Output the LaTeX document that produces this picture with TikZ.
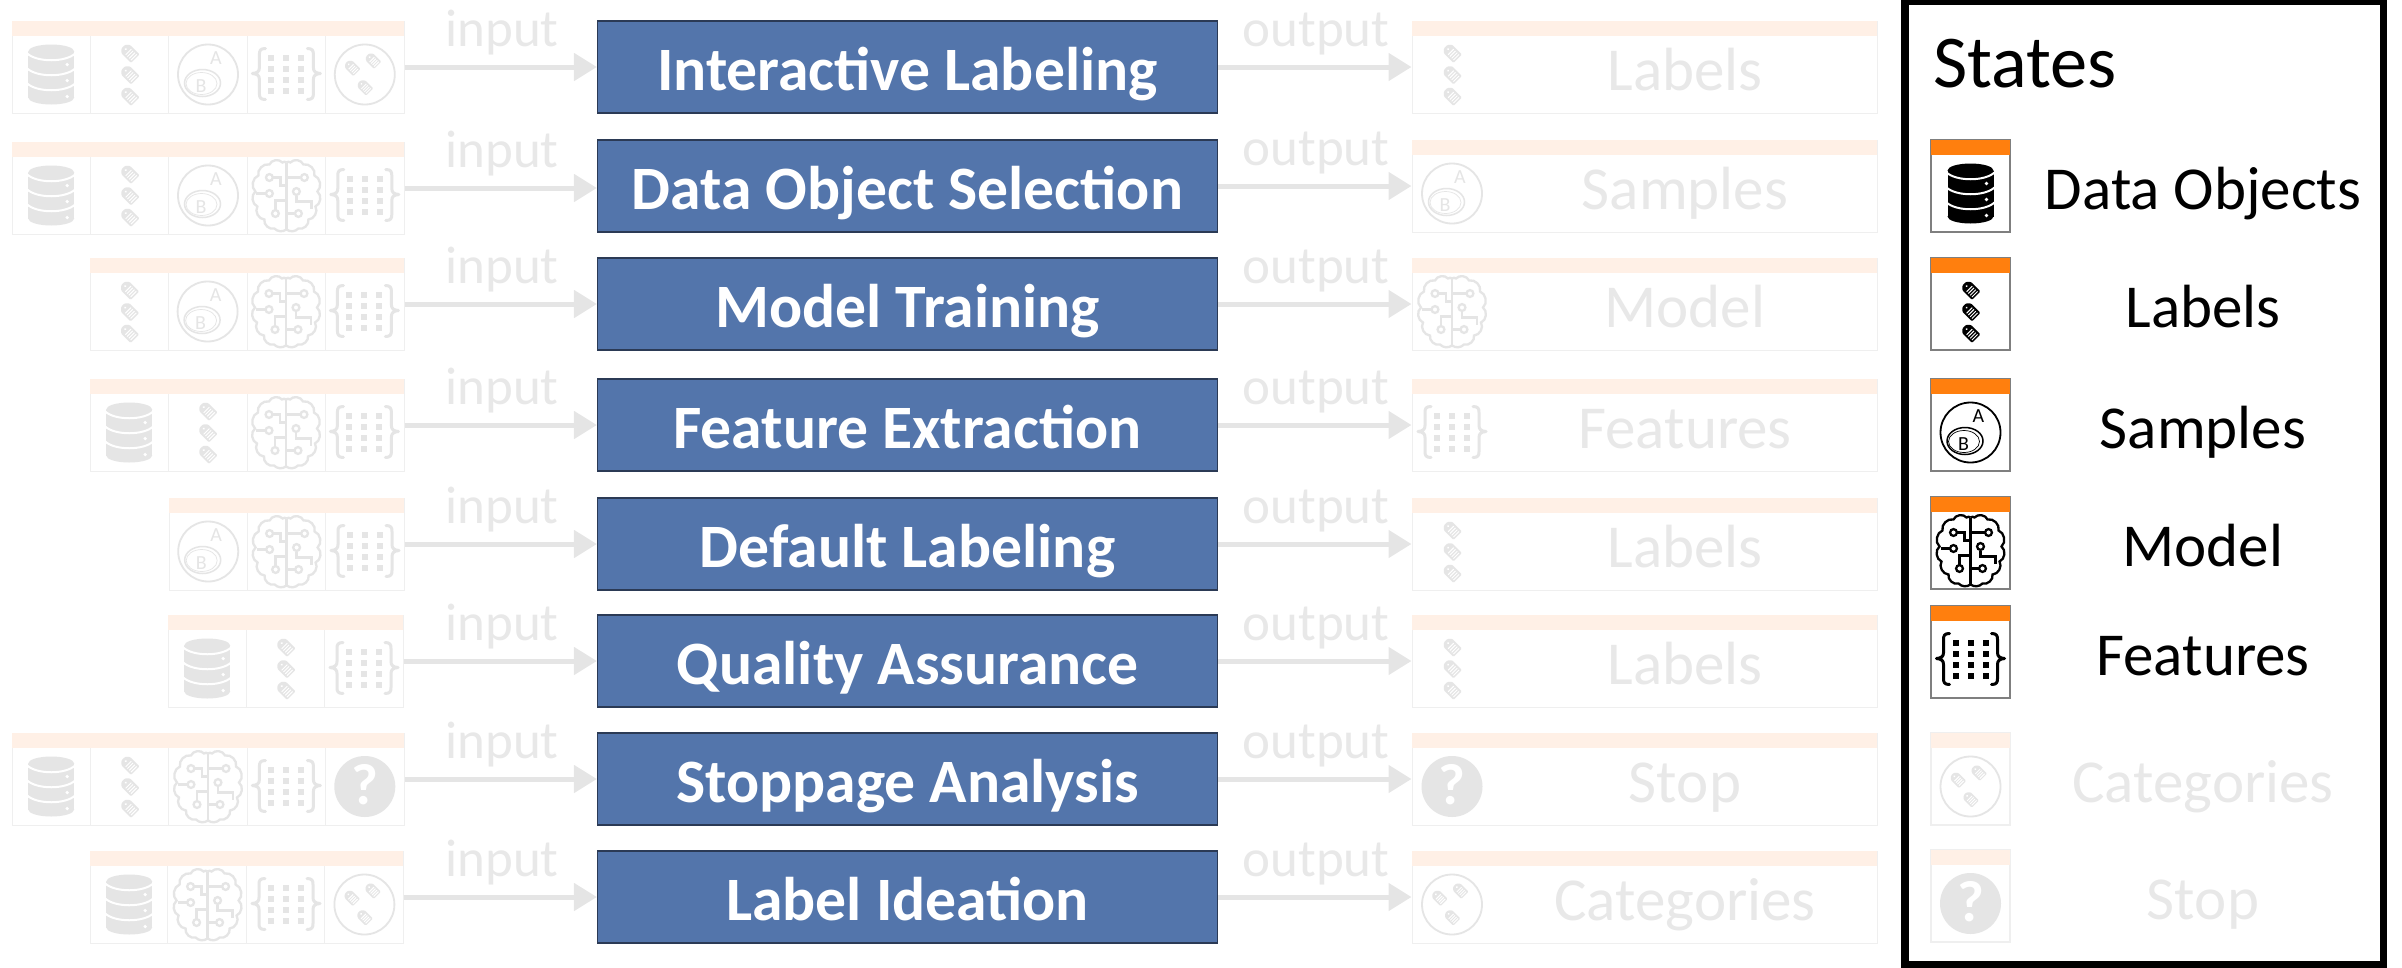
\documentclass[tikz,border=0pt]{standalone}
\usepackage{fontspec}
\setmainfont{Carlito}
\usetikzlibrary{arrows.meta}

\definecolor{taskblue}{HTML}{5375AB}
\definecolor{taskline}{HTML}{2B3A55}
\definecolor{stripon}{HTML}{FF7F0E}
\definecolor{stripoff}{HTML}{FFF0E6}
\definecolor{inkoff}{HTML}{E5E5E5}
\definecolor{textoff}{HTML}{E8E8E8}
\definecolor{celloff}{HTML}{EFEFEF}
\definecolor{cellon}{HTML}{7F7F7F}

\tikzset{
  task/.style={draw=taskline,line width=1.2pt,fill=taskblue,text=white,inner sep=0pt,
    font=\bfseries\fontsize{61.7}{62}\selectfont,minimum width=620pt,minimum height=92pt,
    text height=50pt,text depth=4pt},
  cellbox/.style={draw=celloff,line width=1pt,fill=white,minimum height=92pt,inner sep=0pt},
  flow/.style={draw=inkoff,line width=5pt,-{Triangle[length=23pt,width=27pt]}},
  flowtext/.style={text=textoff,anchor=base,inner sep=0pt,font=\fontsize{53}{53}\selectfont},
  statetext/.style={anchor=base,inner sep=0pt,font=\fontsize{61}{61}\selectfont},
  legbox/.style={draw=cellon,line width=1.3pt,fill=white,minimum width=79pt,minimum height=92pt,inner sep=0pt},
}

\newcommand{\onetag}[2]{
  \begin{scope}[shift={(#1,#2)},rotate=-45]
    \fill[rounded corners=1pt] (-9,-2.5) -- (-5.5,-6) -- (8,-6) -- (8,6) -- (-5.5,6) -- (-9,2.5) -- cycle;
    \fill[white] (-5.5,0) circle [radius=1.2];
    \foreach \u in {-1.5,1,3.5,6}
      \draw[white,line width=1pt] (\u,-4) -- (\u,4);
  \end{scope}
}
\newcommand{\icondb}{
  \fill (-23,-23) rectangle (23,23);
  \fill (0,-23) ellipse [x radius=23,y radius=7];
  \fill (0,23) ellipse [x radius=23,y radius=7];
  \foreach \ypos in {-23,-8,7}
    \draw[white,line width=2pt] (-24,\ypos+2) .. controls (-14,\ypos+11) and (14,\ypos+11) .. (24,\ypos+2);
  \foreach \ypos in {-10,6,22}
    \fill[white] (16,\ypos) circle [radius=1.8];
}
\newcommand{\icontags}{
  \onetag{0}{-21.5}
  \onetag{0}{0}
  \onetag{0}{21.5}
}
\newcommand{\iconsamples}{
  \draw[line width=1.8pt] (0,0) circle [radius=30];
  \draw[line width=1.5pt] (-5.5,8.5) ellipse [x radius=18,y radius=13.5];
  \draw[line width=.7pt] (-6.5,9) ellipse [x radius=15.5,y radius=11];
  \node[inner sep=0pt,font=\fontsize{20}{20}\selectfont] (smpa) at (8,-16) {A};
  \node[inner sep=0pt,font=\fontsize{20}{20}\selectfont] (smpb) at (-7,12) {B};
}
\newcommand{\halfbrain}{
  \draw[line width=2.3pt] (0,-33) to[bend right=40] (-4,-33) to[bend right=60] (-17,-31) to[bend right=60] (-28,-20)
    to[bend right=60] (-31,-4) to[bend right=60] (-29,11) to[bend right=60] (-22,24)
    to[bend right=60] (-12,33) to[bend right=40] (0,34);
}
\newcommand{\iconbrain}{
  \halfbrain
  \begin{scope}[xscale=-1]
    \halfbrain
  \end{scope}
  \draw[line width=2.3pt] (0,-33) -- (0,34);
  \draw[line width=2.3pt] (-14,-18) -- (-6,-18) -- (-6,-10) -- (0,-10);
  \draw[line width=2.3pt] (-30,-2) -- (-20,-2);
  \draw[line width=2.3pt] (-11,15) -- (-11,5) -- (0,5);
  \draw[line width=2.3pt] (0,-18) -- (14,-18);
  \draw[line width=2.3pt] (10,0) -- (10,6) -- (25,6) -- (25,13);
  \draw[line width=2.3pt] (0,18) -- (8,18);
  \foreach \cx/\cy in {-17/-18,-17/-2,-11/18,18/-18,10/-4,12/18}
    \draw[line width=2.3pt] (\cx,\cy) circle [radius=3.4];
}
\newcommand{\leftbrace}{
  \draw[line width=3pt,line join=round,line cap=round] (-21,-26) .. controls (-26,-26) and (-27,-24) .. (-27,-20) -- (-27,-7)
    .. controls (-27,-3) and (-29,-1.5) .. (-34,-1) .. controls (-29,-.5) and (-27,1) .. (-27,5) -- (-27,19)
    .. controls (-27,23) and (-26,25) .. (-21,25);
}
\newcommand{\iconfeats}{
  \leftbrace
  \begin{scope}[xscale=-1]
    \leftbrace
  \end{scope}
  \foreach \cx in {-15,0,15}
    \foreach \cy in {-17,-6,5,16}
      \fill (\cx-3,\cy-3) rectangle (\cx+3,\cy+3);
}
\newcommand{\iconcats}{
  \draw[line width=1.8pt] (0,0) circle [radius=30];
  \begin{scope}[scale=.85]
    \onetag{-15}{-8}
    \onetag{9.5}{-16.5}
    \onetag{0}{15}
  \end{scope}
}
\newcommand{\iconstop}{
  \fill (0,0) circle [radius=30.5];
  \node[text=white,anchor=base,inner sep=0pt,font=\bfseries\fontsize{58}{58}\selectfont] (qmark) at (0,18) {?};
}

% name, left, right, top, icons
\newcommand{\staterow}[5]{
  \node[cellbox,minimum width=#3pt-#2pt] (#1) at ({(#2+#3)/2},#4+46) {};
  \fill[stripoff] (#2,#4) rectangle (#3,#4+15);
  \foreach \ico [count=\c from 0] in {#5} {
    \draw[celloff,line width=1pt] ({#3-\c*78.4},#4+15) -- ({#3-\c*78.4},#4+92);
  }
  \foreach \ico [count=\c from 0] in {#5} {
    \begin{scope}[shift={({#2+\c*78.4+39.2},#4+53.5)},color=inkoff]
      \csname icon\ico\endcsname
    \end{scope}
  }
  \node[flowtext] (lab#1) at (502,#4+25) {input};
}

\begin{document}
\begin{tikzpicture}[x=1pt,y=-1pt]
  \useasboundingbox (0,0) rectangle (2402,967);

  \node[task] (t1) at (907.5,67)  {Interactive Labeling};
  \node[task] (t2) at (907.5,186) {Data Object Selection};
  \node[task] (t3) at (907.5,304) {Model Training};
  \node[task] (t4) at (907.5,425) {Feature Extraction};
  \node[task] (t5) at (907.5,544) {Default Labeling};
  \node[task] (t6) at (907.5,661) {Quality Assurance};
  \node[task] (t7) at (907.5,779) {Stoppage Analysis};
  \node[task] (t8) at (907.5,897) {Label Ideation};

  \staterow{i1}{12}{404}{21}{db,tags,samples,feats,cats}
  \staterow{i2}{12}{404}{142}{db,tags,samples,brain,feats}
  \staterow{i3}{90}{404}{258}{tags,samples,brain,feats}
  \staterow{i4}{90}{404}{379}{db,tags,brain,feats}
  \staterow{i5}{169}{404}{498}{samples,brain,feats}
  \staterow{i6}{168}{403}{615}{db,tags,feats}
  \staterow{i7}{12}{404}{733}{db,tags,brain,feats,stop}
  \staterow{i8}{90}{403}{851}{db,brain,feats,cats}

  \foreach \n/\top/\ico/\txt in {1/21/tags/Labels,2/140/samples/Samples,3/258/brain/Model,4/379/feats/Features,
      5/498/tags/Labels,6/615/tags/Labels,7/733/stop/Stop,8/851/cats/Categories} {
    \node[cellbox,minimum width=465pt] (o\n) at (1644.5,\top+46) {};
    \fill[stripoff] (1412,\top) rectangle (1877,\top+15);
    \begin{scope}[shift={(1452,\top+53.5)},color=inkoff]
      \csname icon\ico\endcsname
    \end{scope}
    \node[statetext,text=textoff] (name\n) at (1685,\top+69) {\txt};
    \node[flowtext] (lab\n) at (1316,\top+25) {output};
  }

  \foreach \from/\to in {i1/t1,i2/t2,i3/t3,i4/t4,i5/t5,i6/t6,i7/t7,i8/t8}
    \draw[flow] (\from.east) -- (\from.east -| \to.west);
  \foreach \from/\to in {t1/o1,t2/o2,t3/o3,t4/o4,t5/o5,t6/o6,t7/o7,t8/o8}
    \draw[flow] (\from.east) -- (\from.east -| \to.west);

  % legend
  \node[draw=black,line width=7.5pt,minimum width=478.5pt,minimum height=963pt,inner sep=0pt] (legend) at (2144.25,483) {};
  \node[anchor=base west,inner sep=0pt,font=\fontsize{74.5}{75}\selectfont] (states) at (1933,87) {States};

  \foreach \top/\ico/\txt in {140/db/Data Objects,258/tags/Labels,379/samples/Samples,497/brain/Model,606/feats/Features} {
    \node[legbox] (box\ico) at (1970.5,\top+46) {};
    \fill[stripon] (1931,\top) rectangle (2010,\top+15);
    \begin{scope}[shift={(1970.5,\top+53.5)},color=black]
      \csname icon\ico\endcsname
    \end{scope}
    \node[statetext] (leg\ico) at (2203,\top+69) {\txt};
  }
  \foreach \top/\ico/\txt in {733/cats/Categories,850/stop/Stop} {
    \node[legbox,draw=celloff] (box\ico) at (1970.5,\top+46) {};
    \fill[stripoff] (1931,\top) rectangle (2010,\top+15);
    \begin{scope}[shift={(1970.5,\top+53.5)},color=inkoff]
      \csname icon\ico\endcsname
    \end{scope}
    \node[statetext,text=textoff] (leg\ico) at (2203,\top+69) {\txt};
  }
\end{tikzpicture}
\end{document}
